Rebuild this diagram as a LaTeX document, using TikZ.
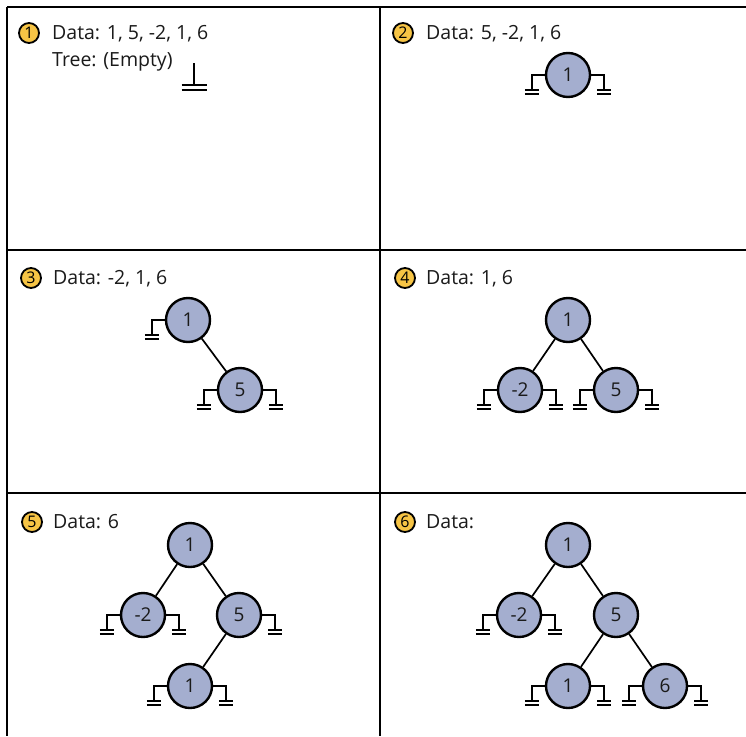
\documentclass[tikz,border=0pt]{standalone}
\usepackage{fontspec}
\setmainfont{Open Sans}
\definecolor{nodeblue}{HTML}{A4AECF}
\definecolor{badgeyellow}{HTML}{F6C445}
\definecolor{txtgray}{HTML}{1A1A1A}
\tikzset{
  grid/.style={line width=2.6pt, black},
  treenode/.style={circle, draw=black, line width=2.4pt, fill=nodeblue, minimum size=44pt, inner sep=0pt, font=\fontsize{19}{22}\selectfont, text=txtgray},
  badge/.style={circle, draw=black, line width=1.8pt, fill=badgeyellow, minimum size=20pt, inner sep=0pt, font=\fontsize{16}{18}\selectfont},
  caption/.style={anchor=base west, inner sep=0pt, font=\fontsize{19.5}{22}\selectfont, text=txtgray},
  edge/.style={line width=1.7pt, black},
  gnd/.style={line width=1.6pt, black},
  bar/.style={line width=2pt, black},
}
% ground symbols attached to a node
\newcommand{\gndL}[1]{%
  \draw[gnd] (#1.west) -- ++(-13,0) coordinate (#1gl) -- ++(0,15);
  \draw[bar] ([xshift=-7pt,yshift=-15pt]#1gl) -- ++(14,0);
  \draw[bar] ([xshift=-7pt,yshift=-18.5pt]#1gl) -- ++(14,0);
}
\newcommand{\gndR}[1]{%
  \draw[gnd] (#1.east) -- ++(13,0) coordinate (#1gr) -- ++(0,15);
  \draw[bar] ([xshift=-7pt,yshift=-15pt]#1gr) -- ++(14,0);
  \draw[bar] ([xshift=-7pt,yshift=-18.5pt]#1gr) -- ++(14,0);
}
\begin{document}
\begin{tikzpicture}[x=1pt,y=-1pt]
\useasboundingbox (0,0) rectangle (746,736);
\fill[white] (0,0) rectangle (746,736);
% grid
\draw[grid] (7,7) -- (746,7);
\draw[grid] (7,7) -- (7,736);
\draw[grid] (380,7) -- (380,736);
\draw[grid] (7,250) -- (746,250);
\draw[grid] (7,493) -- (746,493);

% badges and captions
\node[badge] (b1) at (29,33) {1};
\node[caption] (c1) at (52,39.5) {Data: 1, 5, -2, 1, 6};
\node[caption] (c1b) at (52,66.5) {Tree: (Empty)};
\node[badge] (b2) at (403,33) {2};
\node[caption] (c2) at (426,39.5) {Data: 5, -2, 1, 6};
\node[badge] (b3) at (31,278) {3};
\node[caption] (c3) at (53,284.5) {Data: -2, 1, 6};
\node[badge] (b4) at (405,278) {4};
\node[caption] (c4) at (426,284.5) {Data: 1, 6};
\node[badge] (b5) at (32,522) {5};
\node[caption] (c5) at (53,528.5) {Data: 6};
\node[badge] (b6) at (405,522) {6};
\node[caption] (c6) at (426,528.5) {Data:};

% panel 1: empty tree ground
\coordinate (e1) at (194,63);
\draw[gnd] (e1) -- ++(0,22) coordinate (e1b);
\draw[bar] ([xshift=-12.5pt]e1b) -- ++(25,0);
\draw[bar] ([xshift=-12.5pt,yshift=-5pt]e1b) -- ++(25,0);

% panel 2
\node[treenode] (p2a) at (568,75) {1};
\gndL{p2a}\gndR{p2a}

% panel 3
\node[treenode] (p3a) at (188,320) {1};
\node[treenode] (p3b) at (240,390) {5};
\draw[edge] (p3a) -- (p3b);
\gndL{p3a}\gndL{p3b}\gndR{p3b}

% panel 4
\node[treenode] (p4a) at (568,320) {1};
\node[treenode] (p4b) at (520,390) {-2};
\node[treenode] (p4c) at (616,390) {5};
\draw[edge] (p4a) -- (p4b);
\draw[edge] (p4a) -- (p4c);
\gndL{p4b}\gndR{p4b}\gndL{p4c}\gndR{p4c}

% panel 5
\node[treenode] (p5a) at (190,545) {1};
\node[treenode] (p5b) at (143,615) {-2};
\node[treenode] (p5c) at (239,615) {5};
\node[treenode] (p5d) at (190,686) {1};
\draw[edge] (p5a) -- (p5b);
\draw[edge] (p5a) -- (p5c);
\draw[edge] (p5c) -- (p5d);
\gndL{p5b}\gndR{p5b}\gndR{p5c}\gndL{p5d}\gndR{p5d}

% panel 6
\node[treenode] (p6a) at (568,545) {1};
\node[treenode] (p6b) at (519,615) {-2};
\node[treenode] (p6c) at (616,615) {5};
\node[treenode] (p6d) at (568,686) {1};
\node[treenode] (p6e) at (665,686) {6};
\draw[edge] (p6a) -- (p6b);
\draw[edge] (p6a) -- (p6c);
\draw[edge] (p6c) -- (p6d);
\draw[edge] (p6c) -- (p6e);
\gndL{p6b}\gndR{p6b}\gndL{p6d}\gndR{p6d}\gndL{p6e}\gndR{p6e}
\end{tikzpicture}
\end{document}
